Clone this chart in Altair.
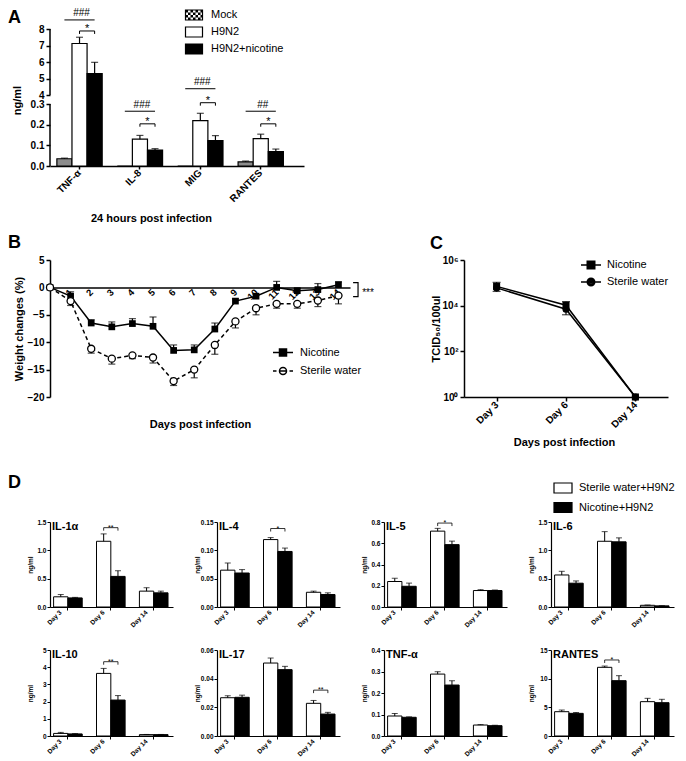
import altair as alt
import pandas as pd

FONT = "Liberation Sans"

# ---------------- Panel A ----------------
a_cytokines = ["TNF-α", "IL-8", "MIG", "RANTES"]
a_groups = ["Mock", "H9N2", "H9N2+nicotine"]
a_colors = ["#8c8c8c", "white", "black"]
a_mock = [0.035, 0.0, 0.0, 0.02]
a_mock_err = [0.003, 0.0, 0.0, 0.004]
a_h9n2 = [7.12, 0.13, 0.22, 0.132]
a_h9n2_err = [0.38, 0.018, 0.035, 0.022]
a_nic = [5.30, 0.077, 0.123, 0.070]
a_nic_err = [0.68, 0.007, 0.024, 0.012]
a_hash_text = ["###", "###", "###", "##"]
a_hash_y = [8.55, 0.265, 4.38, 0.265]
a_star_y = [7.88, 0.204, 0.83, 0.204]
a_star_y2 = [7.70, 0.19, 0.292, 0.19]
a_ticks = [0.0, 0.1, 0.2, 0.3, 4, 5, 6, 7, 8]
a_axis_from = [0.0, 4.0]
a_axis_to = [0.3, 8.0]

# ---------------- Panel B ----------------
b_series = ["Nicotine", "Sterile water"]
b_days = list(range(15))
b_nic = [0.0, -1.6, -6.5, -7.2, -6.6, -7.1, -11.5, -11.4, -7.6, -2.5, -1.6, 0.0, -0.6, -0.4, 0.5]
b_nic_err = [0.0, 0.8, 0.6, 0.9, 0.9, 1.7, 1.0, 0.9, 1.1, 0.4, 0.3, 1.1, 0.4, 1.1, 0.5]
b_sw = [0.0, -2.5, -11.2, -13.0, -12.4, -12.8, -17.1, -15.0, -10.5, -6.2, -3.8, -3.0, -3.0, -2.4, -1.5]
b_sw_err = [0.0, 0.8, 0.8, 1.0, 0.6, 1.0, 0.8, 1.5, 1.7, 1.2, 1.2, 0.8, 0.8, 1.1, 1.5]
b_label_days = list(range(1, 15))
b_ticks = [5, 0, -5, -10, -15, -20]
b_sig_x = [14.71, 14.95, 14.95, 14.71]
b_sig_y = [0.86, 0.86, -1.7, -1.7]

# ---------------- Panel C ----------------
c_series = ["Nicotine", "Sterile water"]
c_days = ["Day 3", "Day 6", "Day 14"]
c_nic = [7.0e4, 1.05e4, 1.0]
c_nic_err = [3.5e4, 4.5e3, 0.0]
c_sw = [6.0e4, 7.0e3, 1.0]
c_sw_err = [1.8e4, 3.0e3, 0.0]
c_ticks = [1, 100, 10000, 1000000]

# ---------------- Panel D ----------------
d_series = ["Sterile water+H9N2", "Nicotine+H9N2"]
d_days = ["Day 3", "Day 6", "Day 14"]
d_panels = ["IL-1α", "IL-4", "IL-5", "IL-6", "IL-10", "IL-17", "TNF-α", "RANTES"]
d_sw = [[0.18, 1.16, 0.28], [0.065, 0.119, 0.026], [0.24, 0.714, 0.155], [0.565, 1.16, 0.03],
        [0.15, 3.64, 0.08], [0.0267, 0.0509, 0.0228], [0.093, 0.288, 0.051], [4.24, 11.98, 5.99]]
d_sw_err = [[0.04, 0.13, 0.06], [0.0125, 0.0035, 0.002], [0.03, 0.026, 0.008], [0.065, 0.17, 0.005],
            [0.06, 0.29, 0.01], [0.0014, 0.0035, 0.002], [0.012, 0.011, 0.002], [0.29, 0.22, 0.58]]
d_nic = [[0.16, 0.54, 0.25], [0.06, 0.098, 0.022], [0.195, 0.587, 0.155], [0.42, 1.15, 0.02],
         [0.12, 2.09, 0.08], [0.027, 0.0463, 0.0153], [0.087, 0.237, 0.048], [3.95, 9.65, 5.81]]
d_nic_err = [[0.01, 0.1, 0.03], [0.006, 0.006, 0.003], [0.03, 0.033, 0.005], [0.04, 0.07, 0.003],
             [0.02, 0.26, 0.01], [0.0015, 0.0023, 0.0012], [0.002, 0.02, 0.002], [0.15, 0.87, 0.59]]
d_ymax = [1.5, 0.15, 0.8, 1.5, 5, 0.06, 0.4, 15]
d_ticks = [[0.0, 0.5, 1.0, 1.5], [0.0, 0.05, 0.10, 0.15], [0.0, 0.2, 0.4, 0.6, 0.8], [0.0, 0.5, 1.0, 1.5],
           [0, 1, 2, 3, 4, 5], [0.0, 0.02, 0.04, 0.06], [0.0, 0.1, 0.2, 0.3, 0.4], [0, 5, 10, 15]]
d_format = [".1f", ".2f", ".1f", ".1f", "d", ".2f", ".1f", "d"]
d_sig_day = ["Day 6", "Day 6", "Day 6", "", "Day 6", "Day 14", "", "Day 6"]
d_sig_text = ["**", "*", "*", "", "**", "**", "", "*"]
d_sig_y = [1.40, 0.1385, 0.79, 0.0, 4.32, 0.032, 0.0, 13.26]


def text_label(txt, x, y, size, weight="bold", align="left", baseline="alphabetic"):
    return alt.Chart(pd.DataFrame({"t": [txt]})).mark_text(
        align=align, baseline=baseline, fontSize=size, fontWeight=weight, font=FONT, color="black"
    ).encode(x=alt.value(x), y=alt.value(y), text="t:N")


def spacer(w, h):
    return alt.Chart(pd.DataFrame({"v": [0]})).mark_point(opacity=0, size=0).properties(width=w, height=h)


def key(cat, grp):
    return f"{cat}|{grp}"


# ---- legend swatch paths (stroke-drawn): checkered, open, solid rectangles ----
RECT = "M-1.7,-1H1.7V1H-1.7Z"


def checker_path():
    p = RECT
    rows = [(-0.88, 0), (-0.62, 0), (-0.38, 1), (-0.12, 1), (0.12, 0), (0.38, 0), (0.62, 1), (0.88, 1)]
    for y, shift in rows:
        x = -1.7 + 0.5 * shift
        while x < 1.7:
            x2 = min(x + 0.5, 1.7)
            p += f"M{x:.2f},{y:.2f}H{x2:.2f}"
            x += 1.0
    return p


def solid_path():
    p = RECT
    y = -0.88
    while y < 0.9:
        p += f"M-1.7,{y:.2f}H1.7"
        y += 0.22
    return p


a_sym = [checker_path(), RECT, solid_path()]
# legend entries keyed separately from the bar fill so the two legends are not merged
a_leg_keys = [f"{i}:{g}" for i, g in enumerate(a_groups)]

# ================= Panel A (single chart, broken y axis via piecewise scale) =================
a_rows = []
for i, c in enumerate(a_cytokines):
    for g, v, e in zip(a_groups, (a_mock, a_h9n2, a_nic), (a_mock_err, a_h9n2_err, a_nic_err)):
        a_rows.append({"key": key(c, g), "group": g, "value": v[i], "upper": v[i] + e[i], "err": e[i], "base": 0.0})
a_df = pd.DataFrame(a_rows)

# band domain: three bars per cytokine, one empty slot between cytokines
a_domain = []
for i, c in enumerate(a_cytokines):
    a_domain += [key(c, g) for g in a_groups]
    if i < len(a_cytokines) - 1:
        a_domain.append(f"gap{i}")

a_legend = alt.Legend(orient="none", legendX=138, legendY=-20, title=None,
                      labelExpr="slice(datum.label, 2)",
                      symbolSize=100, symbolStrokeColor="black", symbolStrokeWidth=1.2, symbolOpacity=1,
                      labelFontSize=11, labelOffset=11, rowPadding=1, padding=0)

A_H = 137
a_xscale = alt.Scale(domain=a_domain, range=[0, 254], paddingInner=0, paddingOuter=0.91, align=0.25)
a_xaxis = alt.Axis(values=[key(c, "H9N2") for c in a_cytokines],
                   labelExpr="split(datum.value, '|')[0]", title="24 hours post infection",
                   labelAngle=-45, labelAlign="right", labelBaseline="middle",
                   labelFontSize=10, labelFontWeight="bold", tickSize=3, tickWidth=1.5, domainWidth=1.5,
                   labelPadding=2, titleFontSize=11, titleFontWeight="bold", titleX=101, titleY=52,
                   titleBaseline="middle", titleAlign="center")
a_yscale = alt.Scale(domain=[0, 0.3, 4, 8], range=[A_H, 75, 66, 0], nice=False, zero=False)
a_yaxis = alt.Axis(values=a_ticks, domain=False, title="ng/ml", labelFontSize=10, labelFontWeight="bold",
                   labelExpr="datum.value < 1 ? format(datum.value, '.1f') : format(datum.value, 'd')",
                   labelOverlap=False, tickSize=4, tickWidth=1.5, labelPadding=2, titleFontSize=11,
                   titleFontWeight="bold", titleX=-33, titleY=71, titleBaseline="middle", titleAlign="center")


def aX(f="key", bp=None):
    if bp is None:
        return alt.X(f + ":N", scale=a_xscale, axis=a_xaxis)
    return alt.X(f + ":N", scale=a_xscale, axis=a_xaxis, bandPosition=bp)


def aY(f):
    return alt.Y(f + ":Q", scale=a_yscale, axis=a_yaxis)


abase = alt.Chart(a_df)
a_bars = abase.mark_bar(stroke="black", strokeWidth=1.2).encode(
    x=aX(), y=aY("value"), y2="base:Q",
    fill=alt.Fill("group:N", scale=alt.Scale(domain=a_groups, range=a_colors), legend=None))
a_errb = abase.transform_filter(alt.datum.err > 0)
a_err = a_errb.mark_rule(color="black", strokeWidth=1.2).encode(x=aX(), y=aY("value"), y2="upper:Q")
a_cap = a_errb.mark_tick(color="black", orient="horizontal", size=7, thickness=1.2).encode(x=aX(), y=aY("upper"))
a_axis_line = alt.Chart(pd.DataFrame({"y1": a_axis_from, "y2": a_axis_to})).mark_rule(
    color="black", strokeWidth=1.5).encode(x=alt.value(0), y=aY("y1"), y2="y2:Q")
a_leg = alt.Chart(pd.DataFrame({"entry": a_leg_keys})).mark_point(
    opacity=0, filled=False, stroke="black", strokeWidth=1.2, size=10).encode(
    shape=alt.Shape("entry:N", scale=alt.Scale(domain=a_leg_keys, range=a_sym), legend=a_legend))

ann = pd.DataFrame({"mock": [key(c, "Mock") for c in a_cytokines],
                    "h9": [key(c, "H9N2") for c in a_cytokines],
                    "nic": [key(c, "H9N2+nicotine") for c in a_cytokines],
                    "hy": a_hash_y, "sy": a_star_y, "sy2": a_star_y2, "ht": a_hash_text, "st": ["*"] * 4})
annb = alt.Chart(ann)
a_ann = [
    annb.mark_rule(color="black", strokeWidth=1).encode(x=aX("mock"), x2="nic:N", y=aY("hy")),
    annb.mark_rule(color="black", strokeWidth=1).encode(x=aX("h9"), x2="nic:N", y=aY("sy")),
    annb.mark_rule(color="black", strokeWidth=1).encode(x=aX("h9"), y=aY("sy"), y2="sy2:Q"),
    annb.mark_rule(color="black", strokeWidth=1).encode(x=aX("nic"), y=aY("sy"), y2="sy2:Q"),
    annb.mark_text(fontSize=10, font=FONT, dy=-3.5, dx=2, baseline="alphabetic", color="black").encode(
        x=aX("h9"), y=aY("hy"), text="ht:N"),
    annb.mark_text(fontSize=11, font=FONT, dy=1, baseline="alphabetic", color="black").encode(
        x=aX("h9", 1.0), y=aY("sy"), text="st:N"),
]
panel_a = alt.layer(a_bars, a_err, a_cap, a_axis_line, a_leg, *a_ann,
                    text_label("A", -42, -20, 18, baseline="top")).properties(width=123, height=A_H)

# ================= Panel B =================
b_rows = []
for d in b_days:
    b_rows.append({"day": d, "series": "Nicotine", "value": b_nic[d], "end": b_nic[d] + b_nic_err[d], "err": b_nic_err[d]})
    b_rows.append({"day": d, "series": "Sterile water", "value": b_sw[d], "end": b_sw[d] - b_sw_err[d], "err": b_sw_err[d]})
b_df = pd.DataFrame(b_rows)

b_xscale = alt.Scale(domain=[0, 14.56], range=[0, 300], nice=False, zero=False)
b_xaxis = alt.Axis(values=b_label_days, format="d", offset=-109.6, ticks=False, labelAngle=-45, labelAlign="right",
                   labelBaseline="middle", labelFontSize=9.5, labelFontWeight="bold", labelPadding=3,
                   labelOverlap=False, domainWidth=1.5, title="Days post infection", titleFontSize=11,
                   titleFontWeight="bold", titleX=150, titleY=137, titleBaseline="middle", titleAlign="center")
b_yscale = alt.Scale(domain=[-20, 5], nice=False, zero=False)
b_yaxis = alt.Axis(values=b_ticks, format="d", title="Weight changes (%)", labelFontSize=10, labelFontWeight="bold",
                   labelOverlap=False, tickSize=4, tickWidth=1.5, domainWidth=1.5, labelPadding=2, titleFontSize=11,
                   titleFontWeight="bold", titleX=-31, titleBaseline="middle")


def bX(f="day"):
    return alt.X(f + ":Q", scale=b_xscale, axis=b_xaxis)


def bY(f):
    return alt.Y(f + ":Q", scale=b_yscale, axis=b_yaxis)


# legend symbols drawn with strokes only: line + (hatched) filled square / dashed line + open circle
b_nic_sym = ("M-2,0H2M-0.7,-0.7H0.7V0.7H-0.7Z"
             "M-0.7,-0.47H0.7M-0.7,-0.23H0.7M-0.7,0.23H0.7M-0.7,0.47H0.7")
b_sw_sym = "M-2,0H-1.3M1.3,0H2M-0.7,0H0.7M0.7,0A0.7,0.7,0,1,1,-0.7,0A0.7,0.7,0,1,1,0.7,0Z"
b_legend = alt.Legend(orient="none", legendX=227, legendY=86.5, title=None, symbolSize=100,
                      symbolStrokeWidth=1.5, symbolStrokeColor="black", symbolOpacity=1,
                      labelFontSize=11, labelOffset=11, rowPadding=4.5, padding=0)

bbase = alt.Chart(b_df)
b_line_nic = bbase.transform_filter(alt.datum.series == "Nicotine").mark_line(
    color="black", strokeWidth=1.5).encode(x=bX(), y=bY("value"))
b_line_sw = bbase.transform_filter(alt.datum.series == "Sterile water").mark_line(
    color="black", strokeWidth=1.5, strokeDash=[4, 3]).encode(x=bX(), y=bY("value"))
b_err = bbase.transform_filter(alt.datum.err > 0).mark_rule(color="black", strokeWidth=1.2).encode(
    x=bX(), y=bY("value"), y2="end:Q")
b_cap = bbase.transform_filter(alt.datum.err > 0).mark_tick(color="black", orient="horizontal", size=7,
                                                            thickness=1.2).encode(x=bX(), y=bY("end"))
b_pts_nic = bbase.transform_filter(alt.datum.series == "Nicotine").mark_point(
    shape="square", filled=True, color="black", size=45, opacity=1).encode(x=bX(), y=bY("value"))
b_pts_sw = bbase.transform_filter(alt.datum.series == "Sterile water").mark_point(
    shape="circle", filled=False, fill="white", stroke="black", strokeWidth=1.3, size=50, opacity=1).encode(
    x=bX(), y=bY("value"))
b_leg = alt.Chart(pd.DataFrame({"series": b_series})).mark_point(
    opacity=0, filled=False, stroke="black", strokeWidth=1.5, size=10).encode(
    shape=alt.Shape("series:N", scale=alt.Scale(domain=b_series, range=[b_nic_sym, b_sw_sym]), legend=b_legend))
b_sig = alt.Chart(pd.DataFrame({"x": b_sig_x, "y": b_sig_y, "o": [0, 1, 2, 3]})).mark_line(
    color="black", strokeWidth=1.2).encode(x=bX("x"), y=bY("y"), order="o:Q")
b_sig_t = alt.Chart(pd.DataFrame({"x": [15.15], "y": [-1.65], "t": ["***"]})).mark_text(
    align="left", baseline="alphabetic", fontSize=10, font=FONT, color="black").encode(
    x=bX("x"), y=bY("y"), text="t:N")
panel_b = alt.layer(b_line_nic, b_line_sw, b_err, b_cap, b_pts_nic, b_pts_sw, b_leg, b_sig, b_sig_t,
                    text_label("B", -42, -12, 18)).properties(width=123, height=137)

# ================= Panel C =================
C_SHIFT = 80
c_rows = []
for j, d in enumerate(c_days):
    c_rows.append({"day": d, "series": "Nicotine", "value": c_nic[j], "end": c_nic[j] + c_nic_err[j], "err": c_nic_err[j]})
    c_rows.append({"day": d, "series": "Sterile water", "value": c_sw[j], "end": c_sw[j] - c_sw_err[j], "err": c_sw_err[j]})
c_df = pd.DataFrame(c_rows)

c_xscale = alt.Scale(type="point", padding=0.47, range=[C_SHIFT, C_SHIFT + 204])
c_xaxis = alt.Axis(title="Days post infection", labelAngle=-45, labelAlign="right", labelBaseline="middle",
                   labelFontSize=10, labelFontWeight="bold", tickSize=4, tickWidth=1.5, domainWidth=1.5,
                   labelPadding=2, titleFontSize=11, titleFontWeight="bold", titleX=C_SHIFT + 100, titleY=45,
                   titleBaseline="middle", titleAlign="center")
c_yscale = alt.Scale(type="log", domain=[1, 1000000], nice=False)
c_yaxis = alt.Axis(values=c_ticks, title="TCID₅₀/100ul", labelFontSize=10, labelFontWeight="bold",
                   labelExpr="'10' + (datum.value >= 1000000 ? '⁶' : datum.value >= 10000 ? '⁴' : datum.value >= 100 ? '²' : '⁰')",
                   labelOverlap=False, tickSize=4, tickWidth=1.5, domainWidth=1.5, labelPadding=2, titleFontSize=11,
                   offset=-C_SHIFT, titleFontWeight="bold", titleX=-28, titleBaseline="middle")


def cX():
    return alt.X("day:N", sort=c_days, scale=c_xscale, axis=c_xaxis)


def cY(f):
    return alt.Y(f + ":Q", scale=c_yscale, axis=c_yaxis)


c_nic_sym = ("M-2,0H2M-0.75,-0.75H0.75V0.75H-0.75Z"
             "M-0.75,-0.5H0.75M-0.75,-0.25H0.75M-0.75,0.25H0.75M-0.75,0.5H0.75")
c_sw_sym = ("M-2,0H2M0.75,0A0.75,0.75,0,1,1,-0.75,0A0.75,0.75,0,1,1,0.75,0Z"
            "M0.45,0A0.45,0.45,0,1,1,-0.45,0A0.45,0.45,0,1,1,0.45,0Z"
            "M0.15,0A0.15,0.15,0,1,1,-0.15,0A0.15,0.15,0,1,1,0.15,0Z")
c_legend = alt.Legend(orient="none", legendX=C_SHIFT + 121, legendY=-1, title=None, symbolSize=100,
                      symbolStrokeWidth=1.5, symbolStrokeColor="black", symbolOpacity=1,
                      labelFontSize=11, labelOffset=10, rowPadding=3, padding=0)
cbase = alt.Chart(c_df)
c_lines = cbase.mark_line(color="black", strokeWidth=1.5).encode(x=cX(), y=cY("value"), detail="series:N")
c_err = cbase.transform_filter(alt.datum.err > 0).mark_rule(color="black", strokeWidth=1.2).encode(
    x=cX(), y=cY("value"), y2="end:Q")
c_cap = cbase.transform_filter(alt.datum.err > 0).mark_tick(color="black", orient="horizontal", size=8,
                                                            thickness=1.2).encode(x=cX(), y=cY("end"))
c_pts_nic = cbase.transform_filter(alt.datum.series == "Nicotine").mark_point(
    shape="square", filled=True, color="black", size=50, opacity=1).encode(x=cX(), y=cY("value"))
c_pts_sw = cbase.transform_filter(alt.datum.series == "Sterile water").mark_point(
    shape="circle", filled=True, color="black", size=50, opacity=1).encode(x=cX(), y=cY("value"))
c_leg = alt.Chart(pd.DataFrame({"series": c_series})).mark_point(
    opacity=0, filled=False, stroke="black", strokeWidth=1.5, size=10).encode(
    shape=alt.Shape("series:N", scale=alt.Scale(domain=c_series, range=[c_nic_sym, c_sw_sym]), legend=c_legend))
panel_c = alt.layer(c_lines, c_err, c_cap, c_pts_nic, c_pts_sw, c_leg,
                    text_label("C", C_SHIFT - 34, -11, 18)).properties(width=123, height=137)

# ================= Panel D =================
d_legend = alt.Legend(orient="none", legendX=6, legendY=-40, title=None, symbolType="M-1.8,-1H1.8V1H-1.8Z",
                      symbolSize=100, symbolStrokeColor="black", symbolStrokeWidth=1.2, symbolOpacity=1,
                      labelFontSize=11, labelOffset=10, rowPadding=3.5, padding=0)

d_domain = []
for j, day in enumerate(d_days):
    d_domain += [key(day, s) for s in d_series]
    if j < len(d_days) - 1:
        d_domain.append(f"gap{j}")


def d_chart(k, height):
    rows = []
    for j, day in enumerate(d_days):
        rows.append({"key": key(day, d_series[0]), "series": d_series[0], "value": d_sw[k][j],
                     "upper": d_sw[k][j] + d_sw_err[k][j]})
        rows.append({"key": key(day, d_series[1]), "series": d_series[1], "value": d_nic[k][j],
                     "upper": d_nic[k][j] + d_nic_err[k][j]})
    df = pd.DataFrame(rows)
    ymax = d_ymax[k]
    xscale = alt.Scale(domain=d_domain, paddingInner=0, paddingOuter=0.3, align=0.42)
    xaxis = alt.Axis(values=[key(day, d_series[0]) for day in d_days], bandPosition=1,
                     labelExpr="split(datum.value, '|')[0]", title=None, labelAngle=-45, labelAlign="right",
                     labelBaseline="middle", labelFontSize=6.5, labelFontWeight="bold", labelOverlap=False,
                     tickSize=3, labelPadding=1, domainWidth=1.2)
    yscale = alt.Scale(domain=[0, ymax], nice=False, zero=True)
    yaxis = alt.Axis(values=d_ticks[k], format=d_format[k], title="ng/ml", titleFontSize=6.5, titleFontWeight="bold",
                     labelFontSize=6.5, labelFontWeight="bold", labelOverlap=False, tickSize=3, labelPadding=1,
                     domainWidth=1.2, titleX=-19.5, titleBaseline="middle")

    def X(f="key", bp=None):
        if bp is None:
            return alt.X(f + ":N", scale=xscale, axis=xaxis)
        return alt.X(f + ":N", scale=xscale, axis=xaxis, bandPosition=bp)

    def Y(f):
        return alt.Y(f + ":Q", scale=yscale, axis=yaxis)

    base = alt.Chart(df)
    bars = base.mark_bar(stroke="black", strokeWidth=1).encode(
        x=X(), y=Y("value"),
        fill=alt.Fill("series:N", scale=alt.Scale(domain=d_series, range=["white", "black"]),
                      legend=d_legend if k == 3 else None))
    err = base.mark_rule(color="black", strokeWidth=1).encode(x=X(), y=Y("value"), y2="upper:Q")
    cap = base.mark_tick(color="black", orient="horizontal", size=6, thickness=1).encode(x=X(), y=Y("upper"))
    layers = [bars, err, cap]
    if d_sig_text[k]:
        sy = d_sig_y[k]
        tk = ymax * 3.0 / height
        day = d_sig_day[k]
        sig = pd.DataFrame({"a": [key(day, d_series[0])], "b": [key(day, d_series[1])],
                            "y": [sy], "y2": [sy - tk], "t": [d_sig_text[k]]})
        sg = alt.Chart(sig)
        layers.append(sg.mark_rule(color="black", strokeWidth=0.8).encode(x=X("a"), x2="b:N", y=Y("y")))
        layers.append(sg.mark_rule(color="black", strokeWidth=0.8).encode(x=X("a"), y=Y("y"), y2="y2:Q"))
        layers.append(sg.mark_rule(color="black", strokeWidth=0.8).encode(x=X("b"), y=Y("y"), y2="y2:Q"))
        layers.append(sg.mark_text(fontSize=7, font=FONT, baseline="alphabetic", dy=2, color="black").encode(
            x=X("a", 1.0), y=Y("y"), text="t:N"))
    layers.append(text_label(d_panels[k], 2, 8, 11))
    if k == 0:
        layers.append(text_label("D", -42, -34, 18))
    return alt.layer(*layers).properties(width=123, height=height)


# ================= Layout (one flat grid, 4 columns) =================
cells = [
    panel_a, spacer(1, A_H), spacer(1, A_H), spacer(1, A_H),
    spacer(1, 76), spacer(1, 76), spacer(1, 76), spacer(1, 76),
    panel_b, spacer(1, 137), panel_c, spacer(1, 137),
    spacer(1, 107), spacer(1, 107), spacer(1, 107), spacer(1, 107),
    d_chart(0, 85), d_chart(1, 85), d_chart(2, 85), d_chart(3, 85),
    spacer(1, 25), spacer(1, 25), spacer(1, 25), spacer(1, 25),
    d_chart(4, 86), d_chart(5, 86), d_chart(6, 86), d_chart(7, 86),
]

chart = alt.concat(
    *cells, columns=4, spacing={"row": 9, "column": 44}, align="each", bounds="flush"
).resolve_scale(
    fill="independent", shape="independent"
).properties(
    padding=0
).configure_axis(
    grid=False, labelFont=FONT, titleFont=FONT, labelColor="black", titleColor="black",
    domainColor="black", tickColor="black"
).configure_legend(
    labelFont=FONT, labelColor="black"
).configure_view(stroke=None)

chart.save("out.html", embed_options={"renderer": "svg", "actions": False})
